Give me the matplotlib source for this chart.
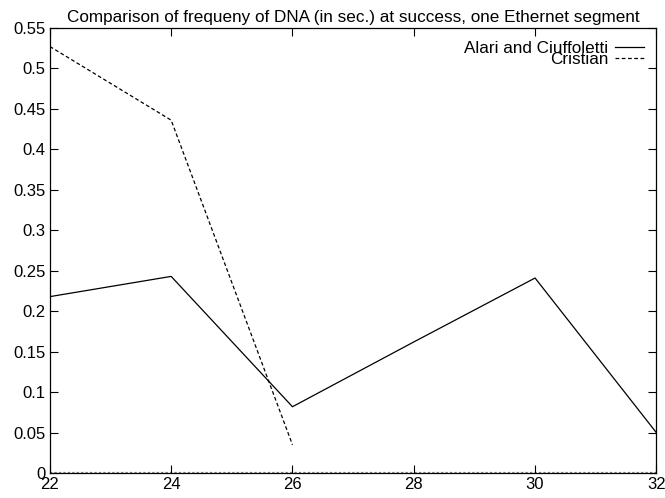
import numpy as np
import matplotlib
matplotlib.use('Agg')
from matplotlib import pyplot as plt

# data
alari_x = [22, 24, 26, 28, 30, 32]
alari_y = [0.218, 0.243, 0.082, 0.162, 0.241, 0.050]
cristian_x = [22, 24, 26]
cristian_y = [0.527, 0.436, 0.035]

x_ticks = [22, 24, 26, 28, 30, 32]
y_ticks = [0, 0.05, 0.1, 0.15, 0.2, 0.25, 0.3, 0.35, 0.4, 0.45, 0.5, 0.55]
y_labels = ['0', '0.05', '0.1', '0.15', '0.2', '0.25', '0.3', '0.35', '0.4', '0.45', '0.5', '0.55']

plt.rcParams['font.family'] = ['Liberation Sans', 'DejaVu Sans']

fig = plt.figure(figsize=(6.65, 4.98), dpi=100)
ax = fig.add_axes([0.075, 0.050, 0.912, 0.894])

# zero axis, drawn dotted over the bottom border like gnuplot does
ax.axhline(0, color='gray', linestyle=(0, (1, 1)), linewidth=1.6, zorder=1)

ax.plot(alari_x, alari_y, color='black', linewidth=0.9, label='Alari and Ciuffoletti')
ax.plot(cristian_x, cristian_y, color='black', linewidth=0.9, linestyle=(0, (3, 2)), label='Cristian')

ax.set_xlim(22, 32)
ax.set_ylim(0, 0.55)
ax.set_xticks(x_ticks)
ax.set_yticks(y_ticks)
ax.set_yticklabels(y_labels)
ax.tick_params(direction='in', top=True, right=True, length=6, width=0.8, labelsize=12, pad=3)
for s in ax.spines.values():
    s.set_linewidth(0.9)

ax.set_title('Comparison of frequeny of DNA (in sec.) at success, one Ethernet segment', fontsize=12.3, pad=4)

leg = ax.legend(loc='upper right', frameon=False, markerfirst=False, fontsize=12.3,
                handlelength=1.7, handletextpad=0.35, labelspacing=-0.2,
                borderaxespad=0.35, alignment='right')
for t in leg.get_texts():
    t.set_horizontalalignment('right')

fig.savefig('out.png', dpi=100)
